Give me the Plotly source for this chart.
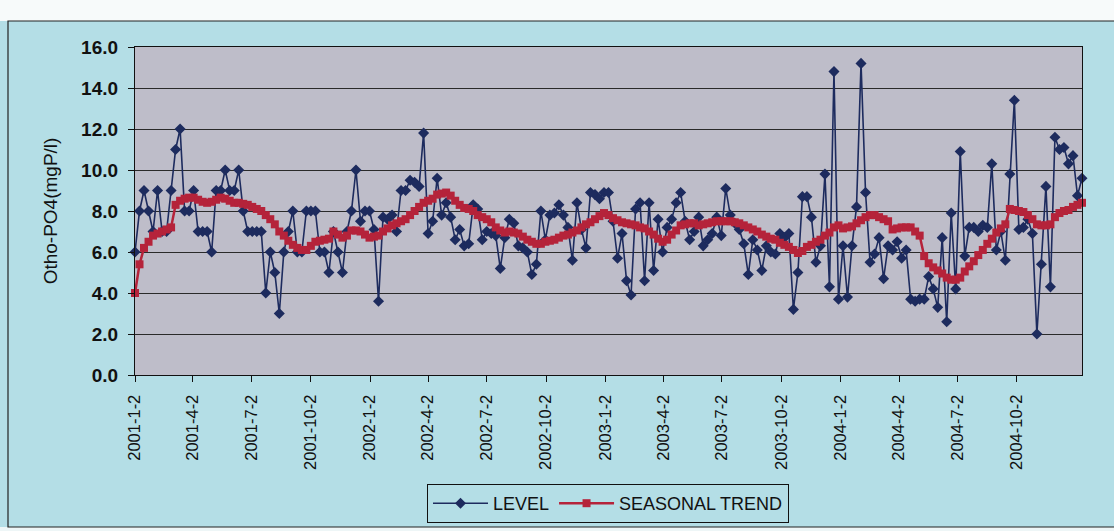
import pandas as pd
import plotly.graph_objects as go

start_date = "2001-01-02"
end_date = "2005-01-11"

level = [
    6.0, 8.0, 9.0, 8.0, 7.0, 9.0, 7.0, 7.0, 9.0, 11.0,
    12.0, 8.0, 8.0, 9.0, 7.0, 7.0, 7.0, 6.0, 9.0, 9.0,
    10.0, 9.0, 9.0, 10.0, 8.0, 7.0, 7.0, 7.0, 7.0, 4.0,
    6.0, 5.0, 3.0, 6.0, 7.0, 8.0, 6.0, 6.0, 8.0, 8.0,
    8.0, 6.0, 6.0, 5.0, 7.0, 6.0, 5.0, 7.0, 8.0, 10.0,
    7.5, 8.0, 8.0, 7.1, 3.6, 7.7, 7.6, 7.8, 7.0, 9.0,
    9.0, 9.5, 9.4, 9.2, 11.8, 6.9, 7.5, 9.6, 7.8, 8.4,
    7.7, 6.6, 7.1, 6.3, 6.4, 8.3, 8.1, 6.6, 7.0, 6.9,
    6.8, 5.2, 6.7, 7.6, 7.4, 6.3, 6.2, 6.0, 4.9, 5.4,
    8.0, 6.6, 7.8, 7.9, 8.3, 7.8, 7.2, 5.6, 8.4, 7.1,
    6.2, 8.9, 8.8, 8.6, 8.9, 8.9, 7.5, 5.7, 6.9, 4.6,
    3.9, 8.1, 8.4, 4.6, 8.4, 5.1, 7.6, 6.0, 7.2, 7.6,
    8.4, 8.9, 7.5, 6.6, 7.0, 7.7, 6.3, 6.6, 6.9, 7.7,
    6.8, 9.1, 7.8, 7.4, 7.1, 6.4, 4.9, 6.6, 6.1, 5.1,
    6.3, 6.0, 5.9, 6.9, 6.7, 6.9, 3.2, 5.0, 8.7, 8.7,
    7.7, 5.5, 6.3, 9.8, 4.3, 14.8, 3.7, 6.3, 3.8, 6.3,
    8.2, 15.2, 8.9, 5.5, 5.9, 6.7, 4.7, 6.3, 6.1, 6.5,
    5.7, 6.1, 3.7, 3.6, 3.7, 3.7, 4.8, 4.2, 3.3, 6.7,
    2.6, 7.9, 4.2, 10.9, 5.8, 7.2, 7.2, 7.0, 7.3, 7.2,
    10.3, 6.1, 7.0, 5.6, 9.8, 13.4, 7.1, 7.2, 7.6, 6.9,
    2.0, 5.4, 9.2, 4.3, 11.6, 11.0, 11.1, 10.3, 10.7, 8.75,
    9.6,
]

seasonal_trend = [
    4.0, 5.4, 6.2, 6.5, 6.8, 6.9, 7.0, 7.1, 7.2, 8.3,
    8.5, 8.6, 8.65, 8.65, 8.55, 8.45, 8.4, 8.45, 8.55, 8.65,
    8.6, 8.5, 8.4, 8.4, 8.35, 8.3, 8.2, 8.1, 8.0, 7.8,
    7.6, 7.35, 7.0, 6.8, 6.55, 6.35, 6.2, 6.1, 6.1, 6.3,
    6.5, 6.55, 6.6, 6.65, 7.0, 6.85, 6.7, 6.8, 7.05, 7.05,
    7.0, 6.85, 6.7, 6.75, 6.8, 7.0, 7.15, 7.3, 7.4, 7.5,
    7.6, 7.8, 8.0, 8.2, 8.4, 8.5, 8.6, 8.8, 8.85, 8.9,
    8.75, 8.5, 8.3, 8.15, 8.1, 8.0, 7.8, 7.7, 7.6, 7.45,
    7.2, 7.05, 6.95, 7.0, 6.95, 6.9, 6.75, 6.6, 6.5, 6.4,
    6.4, 6.5, 6.55, 6.6, 6.7, 6.8, 6.85, 6.95, 7.05, 7.2,
    7.35, 7.45, 7.6, 7.75, 7.9, 7.8, 7.65, 7.55, 7.45, 7.4,
    7.35, 7.3, 7.2, 7.15, 7.0, 6.85, 6.65, 6.5, 6.6, 6.85,
    7.05, 7.3, 7.35, 7.4, 7.4, 7.3, 7.35, 7.4, 7.45, 7.5,
    7.5, 7.5, 7.5, 7.45, 7.4, 7.3, 7.2, 7.1, 7.0, 6.85,
    6.75, 6.65, 6.6, 6.45, 6.35, 6.25, 6.1, 5.95, 6.05, 6.25,
    6.35, 6.5, 6.6, 6.8, 6.95, 7.2, 7.3, 7.15, 7.2, 7.25,
    7.4, 7.55, 7.7, 7.8, 7.8, 7.7, 7.6, 7.5, 7.1, 7.15,
    7.2, 7.2, 7.2, 7.0, 6.8, 5.8, 5.45, 5.25, 5.1, 4.95,
    4.75, 4.65, 4.65, 4.75, 5.05, 5.3, 5.55, 5.85, 6.1, 6.4,
    6.65, 6.95, 7.15, 7.35, 8.1, 8.05, 8.0, 7.95, 7.8, 7.6,
    7.35, 7.3, 7.3, 7.35, 7.7, 7.9, 8.0, 8.05, 8.2, 8.3,
    8.4,
]

tick_dates = [
    "2001-01-02", "2001-04-02", "2001-07-02", "2001-10-02",
    "2002-01-02", "2002-04-02", "2002-07-02", "2002-10-02",
    "2003-01-02", "2003-04-02", "2003-07-02", "2003-10-02",
    "2004-01-02", "2004-04-02", "2004-07-02", "2004-10-02",
]
tick_labels = [
    "2001-1-2", "2001-4-2", "2001-7-2", "2001-10-2",
    "2002-1-2", "2002-4-2", "2002-7-2", "2002-10-2",
    "2003-1-2", "2003-4-2", "2003-7-2", "2003-10-2",
    "2004-1-2", "2004-4-2", "2004-7-2", "2004-10-2",
]

dates_level = pd.date_range(start_date, periods=len(level), freq="7D")
dates_trend = pd.date_range(start_date, periods=len(seasonal_trend), freq="7D")

NAVY = "#1D2B5E"
RED = "#B5233A"
OUTER = "#B4DEE6"
PLOT_BG = "#BEBDC9"

W, H = 1114, 531
L, R, T, B = 135, 1082, 47, 375
pw, ph = R - L, B - T


def px(x):
    return (x - L) / pw


def py(y):
    return (B - y) / ph


fig = go.Figure()
fig.add_trace(go.Scatter(
    x=dates_level, y=level, name="LEVEL", mode="lines+markers",
    line=dict(color=NAVY, width=1.6),
    marker=dict(symbol="diamond", size=8.5, color=NAVY),
    cliponaxis=False,
))
fig.add_trace(go.Scatter(
    x=dates_trend, y=seasonal_trend, name="SEASONAL TREND", mode="lines+markers",
    line=dict(color=RED, width=2.5),
    marker=dict(symbol="square", size=8, color=RED),
    cliponaxis=False,
))

shapes = [
    dict(type="rect", xref="paper", yref="paper", x0=px(-20), x1=px(W + 20),
         y0=py(21), y1=py(-5), fillcolor="#F7FAFA", line=dict(width=0), layer="below"),
    dict(type="rect", xref="paper", yref="paper", x0=px(-20), x1=px(W + 20),
         y0=py(H + 5), y1=py(527), fillcolor="#EEF6F7", line=dict(width=0), layer="below"),
    dict(type="rect", xref="paper", yref="paper", x0=px(8), x1=px(W + 10),
         y0=py(527), y1=py(21), fillcolor="rgba(0,0,0,0)",
         line=dict(color="#222222", width=1.2)),
]

fig.update_layout(
    width=W, height=H,
    margin=dict(l=L, r=W - R, t=T, b=H - B, autoexpand=False),
    paper_bgcolor=OUTER,
    plot_bgcolor=PLOT_BG,
    font=dict(family="Liberation Sans, Arial, sans-serif", color="#111111"),
    showlegend=True,
    legend=dict(
        orientation="h", x=px(608), xanchor="center", y=py(523), yanchor="bottom",
        bgcolor=OUTER, bordercolor="#111111", borderwidth=1,
        font=dict(size=18, family="Liberation Sans, Arial, sans-serif", color="#111111"),
        itemwidth=55, tracegroupgap=0,
    ),
    shapes=shapes,
    xaxis=dict(
        type="date", range=[start_date, end_date], automargin=False,
        tickmode="array", tickvals=tick_dates, ticktext=tick_labels,
        tickangle=-90, ticks="outside", ticklen=6, tickcolor="#111111",
        ticklabelstandoff=6,
        tickfont=dict(size=16.5, color="#111111"),
        showgrid=False, zeroline=False,
        showline=True, linecolor="#111111", linewidth=1.2, mirror=True,
    ),
    yaxis=dict(
        range=[0, 16], dtick=2, tick0=0, tickformat=".1f", automargin=False,
        ticks="outside", ticklen=6, tickcolor="#111111",
        ticklabelstandoff=6,
        tickfont=dict(size=19, color="#111111", weight="bold"),
        showgrid=True, gridcolor="#2A2A2A", gridwidth=1,
        zeroline=False,
        showline=True, linecolor="#111111", linewidth=1.2, mirror=True,
        title=dict(text="Otho-PO4(mgP/l)", font=dict(size=19, color="#111111"), standoff=18),
    ),
)

fig.write_html("out.html")
